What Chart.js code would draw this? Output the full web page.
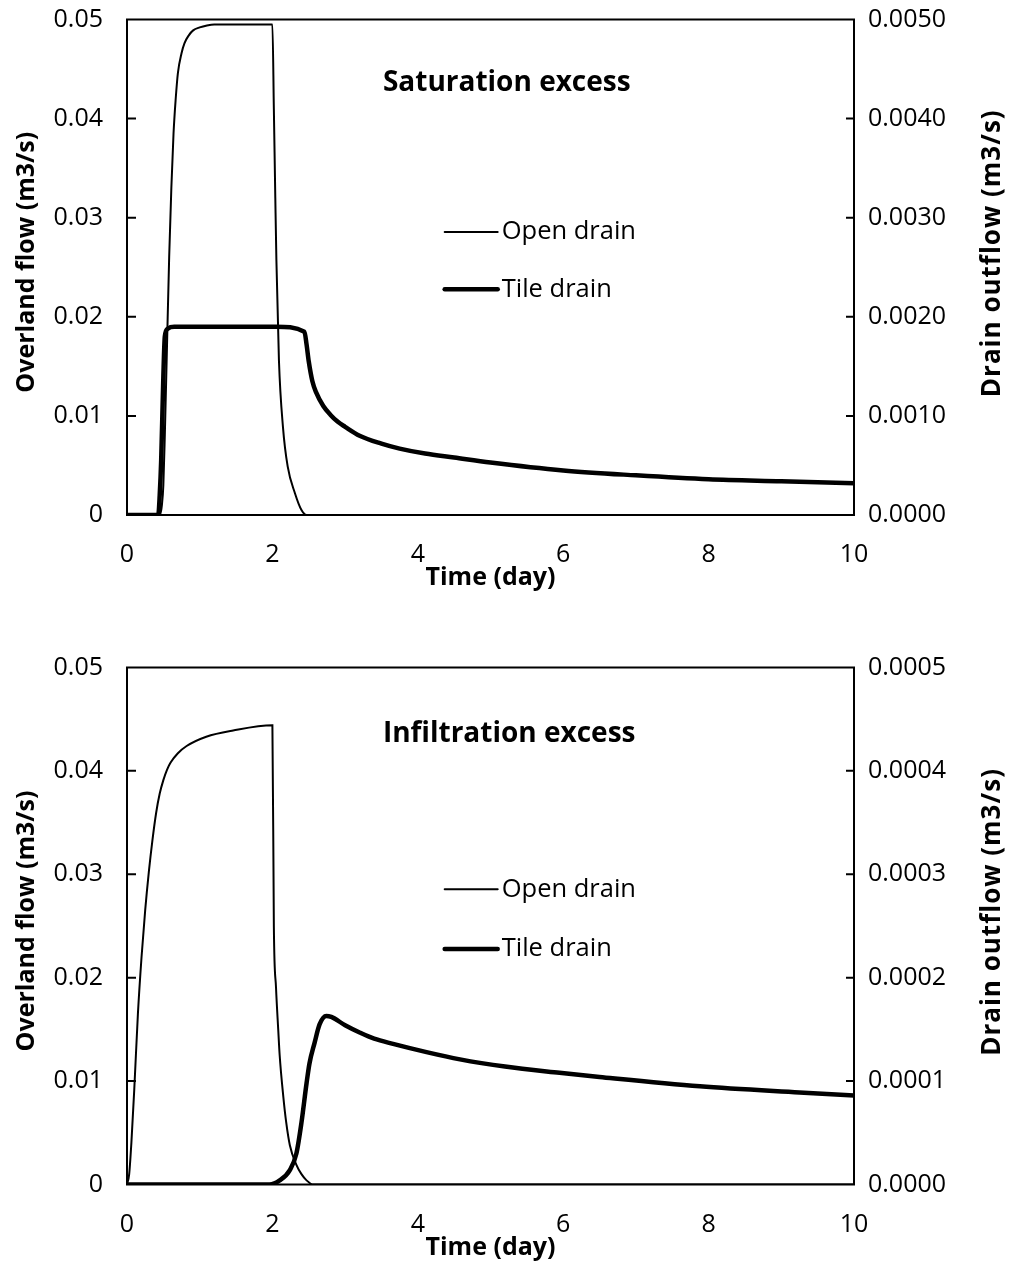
<!DOCTYPE html>
<html>
<head>
<meta charset="utf-8">
<title>Overland flow and drain outflow</title>
<script src="https://cdn.jsdelivr.net/npm/chart.js@4.4.0/dist/chart.umd.min.js"></script>
<style>
  html, body { margin: 0; padding: 0; background: #fff; }
  #wrap { position: relative; width: 1009px; height: 1265px; }
  canvas { position: absolute; left: 0; }
</style>
</head>
<body>
<div id="wrap">
  <canvas id="satChart" width="1009" height="640" style="top:0px"></canvas>
  <canvas id="infChart" width="1009" height="617" style="top:648px"></canvas>
</div>
<script>
// axis ticks
var dayTicks = [0, 2, 4, 6, 8, 10];
var overlandTicks = [0, 0.01, 0.02, 0.03, 0.04, 0.05];
var satDrainTicks = [0, 0.001, 0.002, 0.003, 0.004, 0.005];
var infDrainTicks = [0, 0.0001, 0.0002, 0.0003, 0.0004, 0.0005];

// saturation excess - overland flow to open drain (m3/s)
var satOpenDays = [0, 0.45, 0.48, 0.5, 0.52, 0.55, 0.58, 0.61, 0.64, 0.67, 0.7, 0.75, 0.79, 0.85, 0.91, 1.0, 1.1, 1.2,
    2.0, 2.02, 2.04, 2.055, 2.09, 2.145, 2.21, 2.31, 2.4, 2.47, 10];
var satOpenFlow = [0, 0, 0.001, 0.003, 0.008, 0.017, 0.026, 0.033, 0.0385, 0.042, 0.0446, 0.0466, 0.0476, 0.0484, 0.0489, 0.0492, 0.0494, 0.0495,
    0.0495, 0.041, 0.032, 0.0257, 0.0156, 0.0089, 0.0049, 0.0022, 0.0005, 0, 0];

// saturation excess - tile drain outflow (m3/s)
var satTileDays = [0, 0.43, 0.45, 0.47, 0.5, 0.52, 0.56, 0.65, 2.05, 2.44, 2.47, 2.5, 2.55, 2.6, 2.7, 2.8, 2.9, 3.0,
    3.2, 3.5, 3.75, 4.1, 4.5, 5, 6, 7, 8, 9, 10];
var satTileFlow = [0, 0, 0.0002, 0.00055, 0.0014, 0.0018, 0.00188, 0.0019, 0.0019, 0.00185, 0.00172, 0.00155, 0.00135, 0.00124, 0.0011, 0.00101, 0.00094, 0.00089,
    0.0008, 0.00072, 0.00067, 0.00062, 0.00058, 0.00053, 0.00045, 0.0004, 0.00036, 0.00034, 0.00032];

// infiltration excess - overland flow to open drain (m3/s)
var infOpenDays = [0, 0.03, 0.06, 0.1, 0.15, 0.2, 0.25, 0.3, 0.35, 0.4, 0.45, 0.5, 0.55, 0.6, 0.7, 0.82, 1.09, 1.46,
    2.0, 2.02, 2.05, 2.08, 2.1, 2.15, 2.19, 2.24, 2.33, 2.4, 2.47, 2.56, 10];
var infOpenFlow = [0, 0.001, 0.004, 0.0092, 0.0165, 0.022, 0.0265, 0.0302, 0.0333, 0.0359, 0.0378, 0.0391, 0.0401, 0.0408, 0.0417, 0.0424, 0.0433, 0.0439,
    0.0444, 0.025, 0.019, 0.015, 0.0125, 0.0085, 0.006, 0.0038, 0.0019, 0.001, 0.0004, 0, 0];

// infiltration excess - tile drain outflow (m3/s)
var infTileDays = [0, 1.96, 2.1, 2.24, 2.33, 2.4, 2.47, 2.51, 2.58, 2.65, 2.74, 2.81, 3.0, 3.2, 3.4, 3.66, 4.12, 4.58,
    5.2, 5.95, 6.5, 7.88, 9.25, 10];
var infTileFlow = [0, 0, 0.000004, 0.000014, 0.00003, 0.00006, 0.000098, 0.000117, 0.000137, 0.000155, 0.000163, 0.000162, 0.000154, 0.000147, 0.000141, 0.000136, 0.000128, 0.000121,
    0.000114, 0.000108, 0.000104, 0.000095, 0.000089, 0.000086];

var FONT = '"Open Sans", "DejaVu Sans", sans-serif';

function toPoints(xs, ys) {
    return xs.map(function (x, i) {
        return { x: x, y: ys[i] };
    });
}

function fixedTicks(values) {
    return function (scale) {
        scale.ticks = values.map(function (v) {
            return { value: v };
        });
    };
}

// invisible tick marks just to push the labels away from the axis
function hiddenGrid(len) {
    return { display: false, drawTicks: true, tickLength: len };
}

// plot frame with inward tick marks, drawn under the lines
var framePlugin = {
    id: 'frame',
    beforeDatasetsDraw: function (chart) {
        var ctx = chart.ctx;
        var a = chart.chartArea;
        var yL = chart.scales.y;
        var yR = chart.scales.y2;
        ctx.save();
        ctx.strokeStyle = '#000';
        ctx.lineWidth = 2;
        ctx.beginPath();
        ctx.rect(a.left, a.top, a.right - a.left, a.bottom - a.top);
        yL.ticks.forEach(function (t) {
            var p = yL.getPixelForValue(t.value);
            ctx.moveTo(a.left, p);
            ctx.lineTo(a.left + 9, p);
        });
        yR.ticks.forEach(function (t) {
            var p = yR.getPixelForValue(t.value);
            ctx.moveTo(a.right, p);
            ctx.lineTo(a.right - 8, p);
        });
        ctx.stroke();
        ctx.restore();
    }
};

// panel title, legend and axis titles
var notesPlugin = {
    id: 'notes',
    afterDraw: function (chart, args, opts) {
        var ctx = chart.ctx;
        var a = chart.chartArea;
        var w = a.right - a.left;
        var h = a.bottom - a.top;
        var sets = chart.data.datasets;
        ctx.save();
        ctx.fillStyle = '#000';
        ctx.strokeStyle = '#000';
        ctx.textBaseline = 'middle';

        ctx.font = 'bold 28px ' + FONT;
        ctx.textAlign = 'left';
        ctx.fillText(opts.title, a.left + 0.352 * w, a.top + 0.128 * h);

        // legend
        var lx = a.left + 0.437 * w;
        var rows = [
            { y: a.top + 0.429 * h, ds: sets[0] },
            { y: a.top + 0.5445 * h, ds: sets[1] }
        ];
        ctx.font = '25.5px ' + FONT;
        ctx.lineCap = 'round';
        rows.forEach(function (r) {
            ctx.lineWidth = r.ds.borderWidth;
            ctx.beginPath();
            ctx.moveTo(lx, r.y);
            ctx.lineTo(lx + 53, r.y);
            ctx.stroke();
            ctx.fillText(r.ds.label, lx + 57, r.y);
        });

        // axis titles
        ctx.font = 'bold 25px ' + FONT;
        ctx.textAlign = 'center';
        ctx.fillText('Time (day)', (a.left + a.right) / 2, a.bottom + 63);

        ctx.save();
        ctx.translate(27, (a.top + a.bottom) / 2 - 5);
        ctx.rotate(-Math.PI / 2);
        ctx.fillText('Overland flow (m3/s)', 0, 0);
        ctx.restore();

        ctx.save();
        ctx.font = 'bold 26px ' + FONT;
        ctx.letterSpacing = '1px';
        ctx.translate(993, (a.top + a.bottom) / 2 - 14);
        ctx.rotate(-Math.PI / 2);
        ctx.fillText('Drain outflow (m3/s)', 0, 0);
        ctx.restore();

        ctx.restore();
    }
};

function makeChart(id, title, openPts, tilePts, drainTicks, topPad, xAxisHeight) {
    var ctx = document.getElementById(id).getContext('2d');
    return new Chart(ctx, {
        type: 'line',
        data: {
            datasets: [{
                label: 'Open drain',
                data: openPts,
                yAxisID: 'y',
                borderColor: '#000',
                borderWidth: 2,
                pointRadius: 0,
                cubicInterpolationMode: 'monotone',
                fill: false
            }, {
                label: 'Tile drain',
                data: tilePts,
                yAxisID: 'y2',
                borderColor: '#000',
                borderWidth: 4.5,
                pointRadius: 0,
                cubicInterpolationMode: 'monotone',
                fill: false
            }]
        },
        options: {
            responsive: false,
            animation: false,
            devicePixelRatio: 1,
            layout: {
                padding: { top: topPad, left: 0, right: 0, bottom: 0 }
            },
            plugins: {
                legend: { display: false },
                tooltip: { enabled: false },
                notes: { title: title }
            },
            scales: {
                x: {
                    type: 'linear',
                    min: dayTicks[0],
                    max: dayTicks[dayTicks.length - 1],
                    afterBuildTicks: fixedTicks(dayTicks),
                    afterFit: function (scale) { scale.height = xAxisHeight; },
                    grid: hiddenGrid(25),
                    border: { display: false },
                    ticks: {
                        color: '#000',
                        padding: 0,
                        maxRotation: 0,
                        font: { family: FONT, size: 25 },
                        callback: function (v) { return String(v); }
                    }
                },
                y: {
                    position: 'left',
                    min: overlandTicks[0],
                    max: overlandTicks[overlandTicks.length - 1],
                    afterBuildTicks: fixedTicks(overlandTicks),
                    afterFit: function (scale) { scale.width = 127; },
                    grid: hiddenGrid(24),
                    border: { display: false },
                    ticks: {
                        color: '#000',
                        padding: 0,
                        font: { family: FONT, size: 25 },
                        callback: function (v) { return v === 0 ? '0' : v.toFixed(2); }
                    }
                },
                y2: {
                    position: 'right',
                    min: drainTicks[0],
                    max: drainTicks[drainTicks.length - 1],
                    afterBuildTicks: fixedTicks(drainTicks),
                    afterFit: function (scale) { scale.width = 155; },
                    grid: hiddenGrid(14),
                    border: { display: false },
                    ticks: {
                        color: '#000',
                        padding: 0,
                        font: { family: FONT, size: 25 },
                        callback: function (v) { return v.toFixed(4); }
                    }
                }
            }
        },
        plugins: [framePlugin, notesPlugin]
    });
}

makeChart('satChart', 'Saturation excess',
    toPoints(satOpenDays, satOpenFlow), toPoints(satTileDays, satTileFlow),
    satDrainTicks, 19.5, 125);

makeChart('infChart', 'Infiltration excess',
    toPoints(infOpenDays, infOpenFlow), toPoints(infTileDays, infTileFlow),
    infDrainTicks, 19.4, 80.5);
</script>
</body>
</html>
